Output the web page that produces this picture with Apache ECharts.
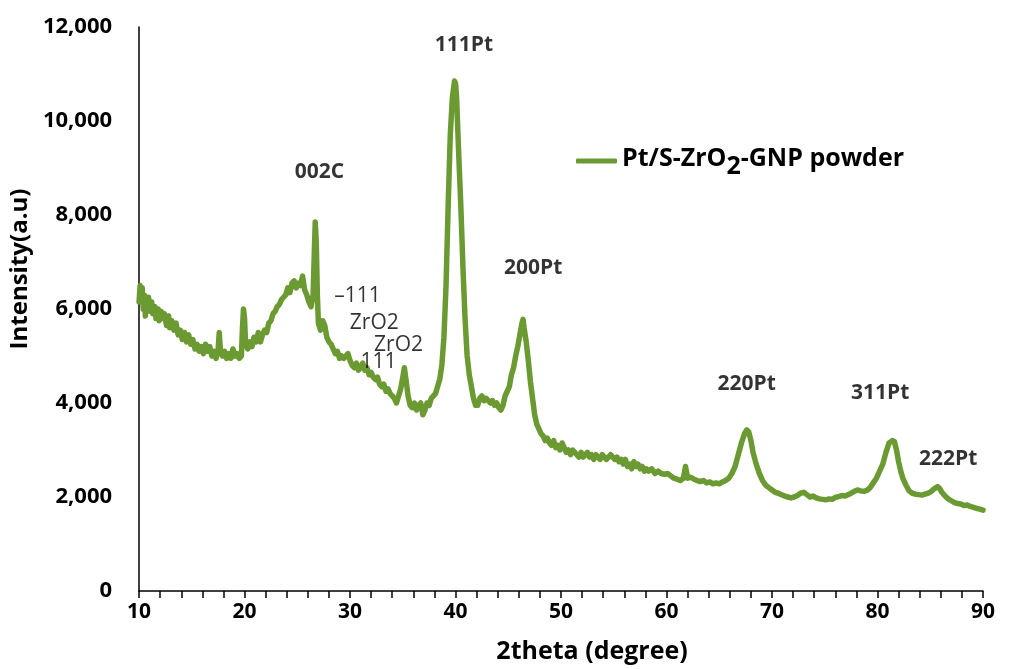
<!DOCTYPE html>
<html>
<head>
<meta charset="utf-8">
<style>
  html, body { margin: 0; padding: 0; background: #ffffff; }
  #chart { width: 1009px; height: 669px; }
</style>
<script src="https://cdn.jsdelivr.net/npm/echarts@6/dist/echarts.min.js"></script>
</head>
<body>
<div id="chart"></div>
<script>
// XRD pattern: 2theta (degree) and intensity (a.u.)
const twoTheta = [
  10.0,10.1,10.2,10.3,10.4,10.5,10.6,10.7,10.8,10.9,11.0,11.2,11.3,11.5,11.6,11.8,11.9,12.1,12.2,12.4,
  12.6,12.8,12.9,13.1,13.3,13.5,13.7,13.9,14.1,14.3,14.5,14.7,14.9,15.1,15.3,15.5,15.7,15.9,16.1,16.3,
  16.5,16.7,16.9,17.1,17.3,17.5,17.6,17.7,17.9,18.1,18.3,18.5,18.7,18.9,19.1,19.3,19.5,19.7,19.8,19.9,
  20.0,20.1,20.3,20.5,20.7,20.9,21.1,21.3,21.5,21.7,21.9,22.1,22.3,22.5,22.7,22.9,23.1,23.3,23.5,23.7,
  23.9,24.1,24.3,24.5,24.7,24.9,25.1,25.3,25.5,25.7,25.9,26.1,26.3,26.5,26.6,26.7,26.8,26.9,27.0,27.2,
  27.4,27.6,27.8,28.0,28.2,28.4,28.6,28.8,29.0,29.2,29.4,29.6,29.8,30.0,30.2,30.4,30.6,30.8,31.0,31.2,
  31.4,31.6,31.8,32.0,32.2,32.4,32.6,32.8,33.0,33.2,33.4,33.6,33.8,34.0,34.2,34.4,34.6,34.8,35.0,35.15,
  35.3,35.5,35.7,35.9,36.1,36.3,36.5,36.7,36.9,37.1,37.3,37.5,37.7,37.9,38.1,38.3,38.5,38.7,38.9,39.1,
  39.3,39.5,39.7,39.9,40.0,40.1,40.3,40.5,40.7,40.9,41.1,41.3,41.5,41.7,41.9,42.1,42.3,42.5,42.7,42.9,
  43.1,43.3,43.5,43.7,43.9,44.1,44.3,44.5,44.7,44.9,45.1,45.3,45.5,45.7,45.9,46.1,46.3,46.4,46.5,46.7,
  46.9,47.1,47.3,47.5,47.7,47.9,48.1,48.3,48.5,48.7,48.9,49.1,49.3,49.5,49.7,49.9,50.1,50.3,50.5,50.7,
  50.9,51.1,51.3,51.5,51.7,51.9,52.1,52.3,52.5,52.7,52.9,53.1,53.3,53.5,53.7,53.9,54.1,54.3,54.5,54.7,
  54.9,55.1,55.3,55.5,55.7,55.9,56.1,56.3,56.5,56.7,56.9,57.1,57.3,57.5,57.7,57.9,58.1,58.3,58.6,58.9,
  59.2,59.5,59.8,60.1,60.4,60.7,61.0,61.3,61.6,61.8,62.0,62.3,62.6,62.9,63.2,63.5,63.8,64.1,64.4,64.7,
  65.0,65.3,65.6,65.9,66.2,66.5,66.8,67.1,67.4,67.6,67.8,68.0,68.2,68.5,68.8,69.1,69.4,69.7,70.0,70.3,
  70.6,70.9,71.2,71.5,71.8,72.1,72.4,72.7,73.0,73.3,73.6,73.9,74.2,74.5,74.8,75.1,75.4,75.7,76.0,76.3,
  76.6,76.9,77.2,77.5,77.8,78.1,78.4,78.7,79.0,79.3,79.6,79.9,80.2,80.5,80.8,81.1,81.4,81.6,81.8,82.0,
  82.2,82.4,82.7,83.0,83.3,83.6,83.9,84.2,84.5,84.8,85.1,85.4,85.7,85.9,86.1,86.4,86.7,87.0,87.3,87.6,
  87.9,88.2,88.5,88.8,89.1,89.4,89.7,90.0
];
const intensity = [
  6150,6500,6250,6450,6000,6300,5850,6200,6050,6250,5950,6150,5900,6050,5800,6000,5750,5950,5800,5900,
  5650,5850,5600,5750,5550,5700,5450,5550,5350,5500,5300,5450,5250,5350,5150,5250,5100,5200,5050,5250,
  5100,5200,5000,5100,4950,5150,5500,5150,5000,5100,4950,5050,4950,5150,5000,5050,4950,5000,5600,6000,
  5800,5250,5150,5300,5200,5400,5300,5500,5300,5450,5550,5500,5700,5750,5900,5950,6050,6100,6200,6250,
  6300,6450,6350,6550,6600,6450,6550,6500,6700,6400,6300,6150,6050,6300,7100,7850,7400,6300,5700,5550,
  5750,5650,5400,5300,5250,5150,5050,5100,4950,5000,4950,5000,5050,4900,4800,4750,4850,4700,4750,4850,
  4700,4750,4600,4650,4550,4500,4550,4400,4350,4400,4250,4300,4200,4150,4100,4000,4150,4300,4550,4750,
  4500,4150,3950,3900,4000,3850,3950,4000,3750,3850,4000,3950,4100,4150,4200,4350,4500,4800,5400,6500,
  8200,9700,10500,10850,10800,10500,9300,8200,6900,5800,5000,4600,4350,4100,3950,3950,4100,4150,4050,4100,
  4050,4000,4050,3950,4000,3900,3850,3950,4150,4250,4350,4600,4750,5000,5200,5450,5700,5780,5600,5300,
  4900,4450,4100,3750,3550,3450,3350,3300,3200,3250,3150,3100,3200,3050,3100,3000,3150,3050,2950,3000,
  2900,3000,2950,2900,2850,2950,2850,2900,2950,2850,2900,2800,2900,2850,2800,2900,2850,2800,2850,2900,
  2850,2800,2850,2750,2800,2700,2800,2650,2700,2600,2750,2650,2700,2600,2650,2550,2600,2550,2600,2500,
  2550,2500,2480,2500,2450,2400,2380,2350,2400,2650,2400,2420,2380,2350,2330,2350,2300,2320,2280,2300,
  2280,2320,2350,2400,2500,2650,2900,3150,3350,3430,3380,3200,2950,2700,2500,2350,2250,2200,2150,2100,
  2080,2050,2020,2000,1980,2000,2030,2080,2100,2050,2000,2020,1980,1960,1950,1940,1960,1950,1990,2010,
  2030,2020,2050,2080,2120,2150,2130,2120,2140,2200,2300,2400,2550,2700,2950,3150,3200,3180,3000,2750,
  2550,2400,2250,2130,2080,2060,2050,2040,2060,2080,2120,2180,2220,2180,2100,2020,1960,1920,1880,1860,
  1850,1820,1830,1800,1780,1760,1740,1720
];

// Reflection labels placed at [2theta, intensity]
const peakLabels = ['002C', '111Pt', '200Pt', '220Pt', '311Pt', '222Pt'];
const peakLabelX = [27.1, 40.8, 47.35, 67.6, 80.26, 86.7];
const peakLabelY = [8915, 11617, 6872, 4404, 4213, 2809];

const zrLabels = ['\u2013111', 'ZrO2', 'ZrO2', '111'];
const zrLabelX = [30.7, 32.3, 34.6, 32.7];
const zrLabelY = [6277, 5702, 5234, 4872];

const seriesName = 'Pt/S-ZrO2-GNP powder';
const lineColor = '#6b9a33';
const fontFamily = '"Open Sans", Lato, sans-serif';

const xyData = twoTheta.map((x, i) => [x, intensity[i]]);
const peakData = peakLabels.map((t, i) => ({ value: [peakLabelX[i], peakLabelY[i]], name: t }));
const zrData = zrLabels.map((t, i) => ({ value: [zrLabelX[i], zrLabelY[i]], name: t }));

const chart = echarts.init(document.getElementById('chart'), null, { renderer: 'canvas' });

chart.setOption({
  animation: false,
  backgroundColor: '#ffffff',
  textStyle: { fontFamily: fontFamily },
  grid: { left: 137, right: 26, top: 27, bottom: 78, containLabel: false },
  legend: {
    data: [seriesName],
    left: 571,
    top: 141,
    icon: 'roundRect',
    itemWidth: 41,
    itemHeight: 5,
    itemGap: 4,
    itemStyle: { color: lineColor },
    formatter: () => '{a|Pt/S-ZrO}{b|2}{a|-GNP powder}',
    textStyle: {
      rich: {
        a: { fontFamily: fontFamily, fontWeight: 'bold', fontSize: 25, color: '#000', lineHeight: 30, verticalAlign: 'top' },
        b: { fontFamily: fontFamily, fontWeight: 'bold', fontSize: 25, color: '#000', lineHeight: 30, verticalAlign: 'top', padding: [8, 0, 0, 0] }
      }
    }
  },
  xAxis: {
    type: 'value',
    min: 10,
    max: 90,
    interval: 10,
    name: '2theta (degree)',
    nameLocation: 'middle',
    nameGap: 48,
    nameTextStyle: { fontFamily: fontFamily, fontWeight: 'bold', fontSize: 25, color: '#000', padding: [0, 0, 0, 62] },
    axisLine: { show: true, onZero: false, lineStyle: { color: '#000', width: 1.5 } },
    axisTick: { show: true, inside: false, length: 7, lineStyle: { color: '#000', width: 1.5 } },
    minorTick: { show: true, splitNumber: 5, length: 7, lineStyle: { color: '#000', width: 1.5 } },
    axisLabel: { margin: 11, fontFamily: fontFamily, fontWeight: 'bold', fontSize: 21, color: '#000' },
    splitLine: { show: false }
  },
  yAxis: {
    type: 'value',
    min: 0,
    max: 12000,
    interval: 2000,
    name: 'Intensity(a.u)',
    nameLocation: 'middle',
    nameGap: 92,
    nameTextStyle: { fontFamily: fontFamily, fontWeight: 'bold', fontSize: 24, color: '#000', padding: [0, 0, 0, 80] },
    axisLine: { show: true, lineStyle: { color: '#000', width: 1.5 } },
    axisTick: { show: false },
    axisLabel: {
      margin: 27,
      fontFamily: fontFamily, fontWeight: 'bold', fontSize: 22, color: '#000',
      formatter: v => v.toLocaleString('en-US')
    },
    splitLine: { show: false }
  },
  series: [
    {
      name: seriesName,
      type: 'line',
      data: xyData,
      symbol: 'none',
      showSymbol: false,
      lineStyle: { color: lineColor, width: 5.5, cap: 'round', join: 'round' },
      itemStyle: { color: lineColor },
      z: 2
    },
    {
      name: 'peaks',
      type: 'scatter',
      data: peakData,
      symbolSize: 0,
      silent: true,
      label: {
        show: true,
        position: 'inside',
        formatter: p => p.name,
        fontFamily: fontFamily, fontWeight: 'bold', fontSize: 21, color: '#000',
        textBorderWidth: 0
      },
      z: 3
    },
    {
      name: 'zro2',
      type: 'scatter',
      data: zrData,
      symbolSize: 0,
      silent: true,
      label: {
        show: true,
        position: 'inside',
        formatter: p => p.name,
        fontFamily: fontFamily, fontWeight: 500, fontSize: 21, color: '#000',
        textBorderWidth: 0
      },
      z: 3
    }
  ]
});
</script>
</body>
</html>
